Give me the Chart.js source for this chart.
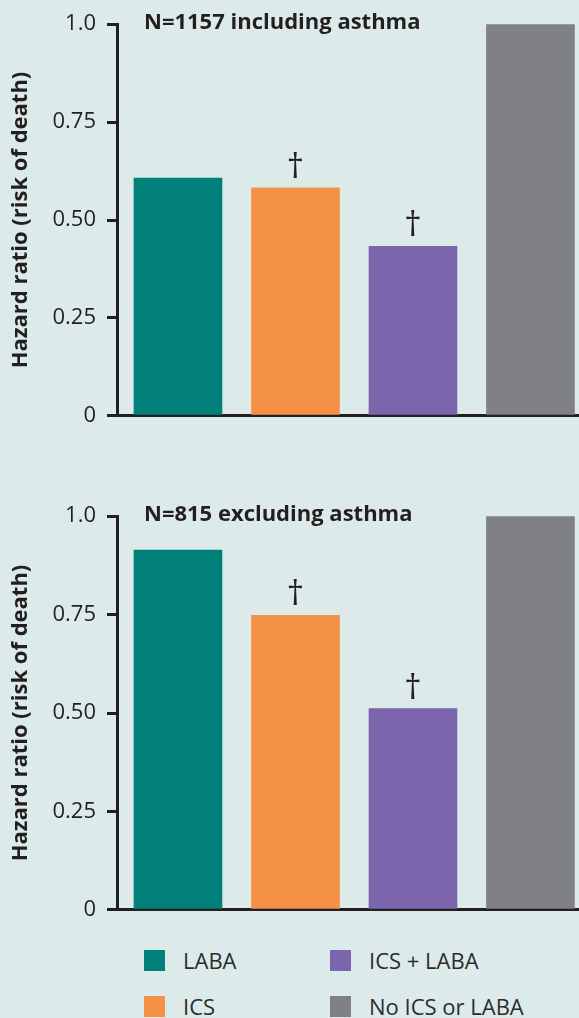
<!DOCTYPE html>
<html lang="en">
  <head>
    <meta charset="UTF-8" />
    <title>Hazard ratio</title>
    <script src="https://cdn.jsdelivr.net/npm/chart.js"></script>
    <style>
      html, body { margin: 0; padding: 0; }
      body {
        width: 579px;
        height: 1018px;
        overflow: hidden;
        background: #dcebea;
        position: relative;
        font-family: "Open Sans", sans-serif;
        color: #231f20;
      }
      .box { position: absolute; left: 0; width: 579px; }
      #legend .item { position: absolute; height: 22px; display: flex; align-items: center; }
      #legend .sw { width: 21px; height: 21px; margin-right: 18px; }
      #legend .txt { font-size: 22px; color: #2b2b2b; white-space: nowrap; }
    </style>
  </head>
  <body>
    <div class="box" style="top: 0px; height: 440px;"><canvas id="topChart"></canvas></div>
    <div class="box" style="top: 492px; height: 442px;"><canvas id="bottomChart"></canvas></div>
    <div id="legend"></div>

    <script>
      // data
      const categories = ["LABA", "ICS", "ICS + LABA", "No ICS or LABA"];
      const colors = ["#008078", "#f59146", "#7b65ac", "#808184"];
      const includingAsthma = [0.607, 0.582, 0.433, 1.0];
      const excludingAsthma = [0.914, 0.748, 0.511, 1.0];
      const daggers = [false, true, true, false];
      const tickValues = [0, 0.25, 0.5, 0.75, 1.0];
      const tickLabels = ["0", "0.25", "0.50", "0.75", "1.0"];
      const titles = ["N=1157 including asthma", "N=815 excluding asthma"];

      const ink = "#231f20";

      // title text + daggers drawn on top of the bars
      const extras = {
        id: "extras",
        afterDatasetsDraw(chart, args, opts) {
          const ctx = chart.ctx;
          const area = chart.chartArea;
          const xs = chart.scales.x;
          const ys = chart.scales.y;
          ctx.save();
          ctx.fillStyle = ink;
          ctx.font = "bold 22px 'Open Sans'";
          ctx.textAlign = "left";
          ctx.textBaseline = "alphabetic";
          ctx.fillText(opts.text, 144, area.top + 5);

          ctx.font = "34px 'Open Sans'";
          ctx.textAlign = "center";
          opts.values.forEach((v, i) => {
            if (!daggers[i]) return;
            ctx.fillText("\u2020", xs.getPixelForValue(i), ys.getPixelForValue(v) - 10);
          });
          ctx.restore();
        }
      };

      function drawChart(id, values, title) {
        const ctx = document.getElementById(id).getContext("2d");
        return new Chart(ctx, {
          type: "bar",
          data: {
            labels: categories,
            datasets: [{
              data: values.map((v, i) => ({ x: i, y: v })),
              backgroundColor: colors,
              borderWidth: 0,
              barThickness: 88
            }]
          },
          options: {
            responsive: true,
            maintainAspectRatio: false,
            animation: false,
            layout: { padding: { top: 20, bottom: 23, left: 0, right: 0 } },
            plugins: {
              legend: { display: false },
              tooltip: { enabled: false },
              extras: { text: title, values: values }
            },
            scales: {
              x: {
                type: "linear",
                offset: false,
                min: -0.519,
                max: 3.413,
                grid: { display: true, offset: false, drawOnChartArea: false, drawTicks: false },
                border: { display: true, color: ink, width: 3 },
                ticks: { display: false },
                afterFit: (s) => { s.height = 0; }
              },
              y: {
                min: 0,
                max: 1,
                afterBuildTicks: (s) => { s.ticks = tickValues.map((v) => ({ value: v })); },
                afterFit: (s) => { s.width = 117; },
                grid: {
                  drawOnChartArea: false,
                  drawTicks: true,
                  tickLength: 10,
                  color: ink,
                  lineWidth: 3
                },
                border: { display: true, color: ink, width: 3 },
                ticks: {
                  padding: 11,
                  color: ink,
                  font: { family: "Open Sans", size: 22 },
                  callback: (v, i) => tickLabels[i]
                },
                title: {
                  display: true,
                  text: "Hazard ratio (risk of death)",
                  color: ink,
                  font: { family: "Open Sans", size: 22, weight: "bold" },
                  padding: { top: 8, bottom: 0 }
                }
              }
            }
          },
          plugins: [extras]
        });
      }

      drawChart("topChart", includingAsthma, titles[0]);
      drawChart("bottomChart", excludingAsthma, titles[1]);

      // legend, two columns (column first)
      const legend = document.getElementById("legend");
      categories.forEach((c, i) => {
        const col = Math.floor(i / 2);
        const row = i % 2;
        const item = document.createElement("div");
        item.className = "item";
        item.style.left = (col === 0 ? 144 : 330) + "px";
        item.style.top = (949 + row * 46) + "px";
        item.innerHTML = '<div class="sw" style="background:' + colors[i] + '"></div><span class="txt">' + c + "</span>";
        legend.appendChild(item);
      });
    </script>
  </body>
</html>
